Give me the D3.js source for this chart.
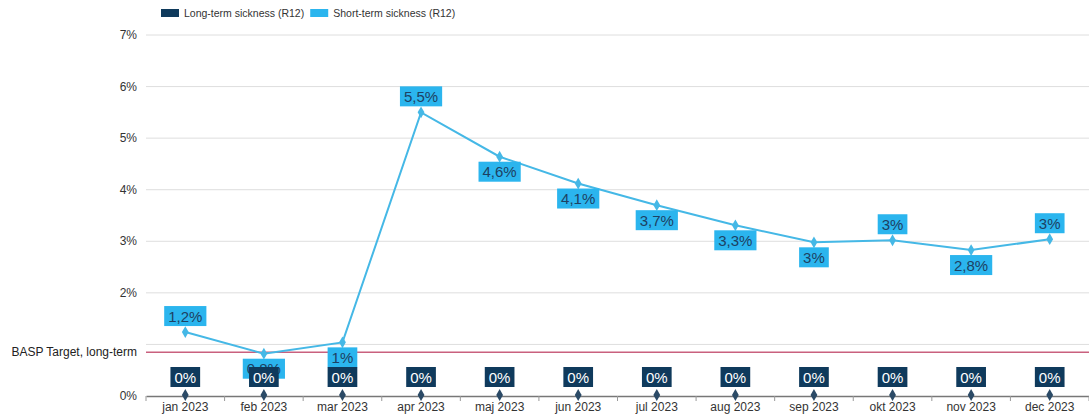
<!DOCTYPE html>
<html><head><meta charset="utf-8">
<script src="https://cdn.jsdelivr.net/npm/d3@7/dist/d3.min.js"></script>
<style>body{margin:0;background:#fff;}svg{display:block;font-family:"Liberation Sans",Arial,sans-serif;}</style>
</head><body>
<svg id="c" width="1089" height="414"></svg>
<script>
const categories = ["jan 2023","feb 2023","mar 2023","apr 2023","maj 2023","jun 2023","jul 2023","aug 2023","sep 2023","okt 2023","nov 2023","dec 2023"];
const longTerm = [0,0,0,0,0,0,0,0,0,0,0,0];
const shortTerm = [1.24,0.82,1.04,5.5,4.64,4.12,3.7,3.31,2.98,3.02,2.83,3.04];
const yTicks = [0,1,2,3,4,5,6,7];
const yTickLabels = ["0%","","2%","3%","4%","5%","6%","7%"];
const targetValue = 0.85;
const targetLabel = "BASP Target, long-term";
const seriesNames = ["Long-term sickness (R12)","Short-term sickness (R12)"];
const colors = {long:"#0f3a5c", short:"#2bb5ee", line:"#45b8e6", target:"#c9607e"};

const svg = d3.select("#c");
const m = {l:146, r:1089, t:35, b:396};
const x = d3.scaleBand().domain(categories).range([m.l, m.r]);
const y = d3.scaleLinear().domain([0,7]).range([m.b, m.t]);
const fmt = v => (Math.round(v*10)/10).toString().replace(".", ",") + "%";

// grid
svg.append("g").selectAll("line").data(yTicks.filter(t=>t>0)).join("line")
  .attr("x1", m.l).attr("x2", m.r).attr("y1", d=>y(d)).attr("y2", d=>y(d))
  .attr("stroke","#dedede").attr("stroke-width",1);
// y labels
svg.append("g").selectAll("text").data(yTicks).join("text")
  .attr("x", 137).attr("y", d=>y(d)+4).attr("text-anchor","end")
  .attr("font-size",12).attr("fill","#333").text((d,i)=>yTickLabels[i]);

// x axis
const xa = svg.append("g").attr("transform",`translate(0,${m.b})`)
  .call(d3.axisBottom(x).tickSize(0).tickPadding(6));
xa.select(".domain").attr("stroke","#777").attr("stroke-width",1.5);
xa.selectAll("text").attr("font-size",12).attr("fill","#333").attr("font-family","Liberation Sans, Arial, sans-serif");
svg.append("g").selectAll("line").data(categories.slice(1).concat(["end"])).join("line")
  .attr("x1", (d,i)=>m.l + x.step()*(i+1)).attr("x2",(d,i)=>m.l + x.step()*(i+1))
  .attr("y1", m.b).attr("y2", m.b+5).attr("stroke","#999");
svg.append("line").attr("x1",m.l).attr("x2",m.l).attr("y1",m.b).attr("y2",m.b+5).attr("stroke","#999");

// target line
svg.append("line").attr("x1",m.l).attr("x2",m.r).attr("y1",y(targetValue)).attr("y2",y(targetValue))
  .attr("stroke",colors.target).attr("stroke-width",1.5);
svg.append("text").attr("x",137).attr("y",y(targetValue)+4).attr("text-anchor","end")
  .attr("font-size",12).attr("fill","#222").text(targetLabel);

const cx = d => x(d) + x.bandwidth()/2;
const diamond = d3.symbol().type(d3.symbolDiamond).size(40);

// short-term line
svg.append("path").datum(shortTerm)
  .attr("d", d3.line().x((d,i)=>cx(categories[i])).y(d=>y(d)))
  .attr("fill","none").attr("stroke",colors.line).attr("stroke-width",2);
svg.append("g").selectAll("path").data(shortTerm).join("path")
  .attr("d", diamond).attr("transform",(d,i)=>`translate(${cx(categories[i])},${y(d)})`)
  .attr("fill",colors.line);

// long-term markers
svg.append("g").selectAll("path").data(longTerm).join("path")
  .attr("d", diamond).attr("transform",(d,i)=>`translate(${cx(categories[i])},${y(d)-1})`)
  .attr("fill","#2b4a66");

function label(g, xc, yTop, txt, fill, color){
  const t = g.append("text").attr("x",xc).attr("y",yTop+15.5).attr("text-anchor","middle")
    .attr("font-size",15).attr("fill",color).text(txt);
  const w = t.node().getComputedTextLength();
  g.insert("rect","text").attr("x",xc-w/2-4).attr("y",yTop).attr("width",w+8).attr("height",20).attr("fill",fill);
}

// short-term labels
shortTerm.forEach((v,i)=>{
  const prev = i>0 ? shortTerm[i-1] : -Infinity;
  const next = i<shortTerm.length-1 ? shortTerm[i+1] : -Infinity;
  const above = v > prev && v > next;
  const g = svg.append("g");
  const py = y(v);
  label(g, cx(categories[i]), above ? py-26 : py+5, fmt(v), colors.short, "#1d4163");
});
// long-term labels
longTerm.forEach((v,i)=>{
  const g = svg.append("g");
  label(g, cx(categories[i]), y(v)-29, fmt(v), colors.long, "#ffffff");
});

// legend
const lg = svg.append("g");
let lx = 161;
seriesNames.forEach((n,i)=>{
  lg.append("rect").attr("x",lx).attr("y",9).attr("width",18).attr("height",8).attr("fill",i===0?colors.long:colors.short);
  const t = lg.append("text").attr("x",lx+23).attr("y",17).attr("font-size",10.5).attr("fill","#333").text(n);
  lx += 23 + t.node().getComputedTextLength() + 6;
});
</script>
</body></html>
